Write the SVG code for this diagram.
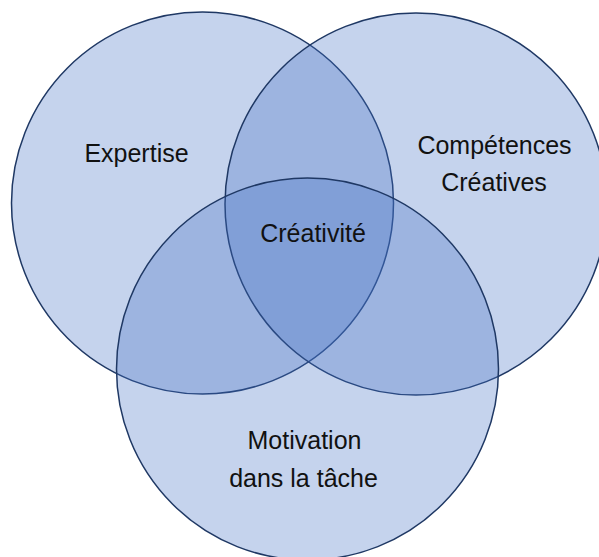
<svg xmlns="http://www.w3.org/2000/svg" width="599" height="557" viewBox="0 0 599 557">
  <style>
    .c { fill: #4472C4; fill-opacity: 0.31; stroke: #1F3864; stroke-width: 1.5; }
    .t { font-family: "Liberation Sans", Arial, sans-serif; font-size: 25px; fill: #111111; text-anchor: middle; }
  </style>
  <rect width="599" height="557" fill="#ffffff"/>
  <g id="expertise">
    <circle class="c" cx="202.5" cy="203" r="191"/>
  </g>
  <g id="competences">
    <circle class="c" cx="416" cy="204" r="191"/>
  </g>
  <g id="motivation">
    <circle class="c" cx="307.5" cy="369" r="191"/>
  </g>
  <g id="labels">
    <text class="t" x="136.5" y="162">Expertise</text>
    <text class="t" x="494.5" y="154">Compétences</text>
    <text class="t" x="494" y="191">Créatives</text>
    <text class="t" x="313" y="242">Créativité</text>
    <text class="t" x="304.5" y="449">Motivation</text>
    <text class="t" x="303.5" y="487">dans la tâche</text>
  </g>
</svg>
